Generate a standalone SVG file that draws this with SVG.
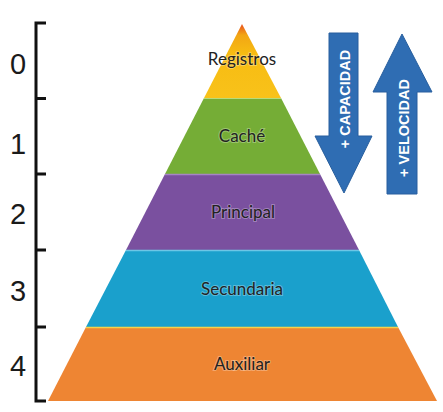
<svg xmlns="http://www.w3.org/2000/svg" width="443" height="412" viewBox="0 0 443 412">
<style>
.num{font-family:"Liberation Sans",Arial,sans-serif;font-size:29px;fill:#1a1a1a;text-anchor:middle}
.lbl{font-family:Lato,"Open Sans",sans-serif;font-size:17px;fill:#222222;text-anchor:middle;stroke:#ffffff;stroke-opacity:0.3;stroke-width:2px;paint-order:stroke}
.arw{fill:#2f6db3;stroke:#285f9e;stroke-width:1}
.atx{font-family:"Liberation Sans",Arial,sans-serif;font-size:14.5px;font-weight:bold;fill:#ffffff;text-anchor:middle}
.tick{stroke:#111;stroke-width:3;fill:none}
</style>
<defs>
<linearGradient id="gTop" x1="0" y1="24" x2="0" y2="98" gradientUnits="userSpaceOnUse">
<stop offset="0" stop-color="#e8501e"/>
<stop offset="0.15" stop-color="#f2a614"/>
<stop offset="0.4" stop-color="#f7bc12"/>
<stop offset="1" stop-color="#f8c21a"/>
</linearGradient>
</defs>
<rect width="443" height="412" fill="#ffffff"/>
<g id="scale">
<path class="tick" d="M46,23 H36 V401 H46 M36,98.5 H46 M36,174 H46 M36,250 H46 M36,327 H46"/>
<text class="num" x="18" y="74">0</text>
<text class="num" x="18" y="154">1</text>
<text class="num" x="18" y="224">2</text>
<text class="num" x="18" y="301">3</text>
<text class="num" x="18" y="376">4</text>
</g>
<g id="registros">
<polygon points="242,24 204,98 281,98" fill="url(#gTop)"/>
<text class="lbl" x="242" y="65">Registros</text>
</g>
<g id="cache">
<polygon points="204,98 281,98 320,174 165,174" fill="#75ad36"/>
<line x1="204" y1="98.5" x2="281" y2="98.5" stroke="#b8da7a" stroke-width="1"/>
<text class="lbl" x="242" y="142">Caché</text>
</g>
<g id="principal">
<polygon points="165,174 320,174 359,250 126,250" fill="#7a509f"/>
<line x1="165" y1="174.5" x2="320" y2="174.5" stroke="#a585c4" stroke-width="1.5"/>
<text class="lbl" x="243" y="218">Principal</text>
</g>
<g id="secundaria">
<polygon points="126,250 359,250 398,327 86,327" fill="#1aa0cc"/>
<line x1="126" y1="250.5" x2="359" y2="250.5" stroke="#6cc6e6" stroke-width="1.5"/>
<text class="lbl" x="242" y="295">Secundaria</text>
</g>
<g id="auxiliar">
<polygon points="86,327 398,327 437,401 48,401" fill="#ee8533"/>
<line x1="86" y1="327.5" x2="398" y2="327.5" stroke="#f6d24a" stroke-width="1.5"/>
<text class="lbl" x="242" y="370">Auxiliar</text>
</g>
<g id="capacidad">
<polygon class="arw" points="329,33 358,33 358,136 372,136 344,193 315,136 329,136"/>
<text class="atx" transform="translate(349.5,99) rotate(-90)">+ CAPACIDAD</text>
</g>
<g id="velocidad">
<polygon class="arw" points="402,34 432,92 417,92 417,194 387,194 387,92 373,92"/>
<text class="atx" transform="translate(408.5,128) rotate(-90)">+ VELOCIDAD</text>
</g>
</svg>
